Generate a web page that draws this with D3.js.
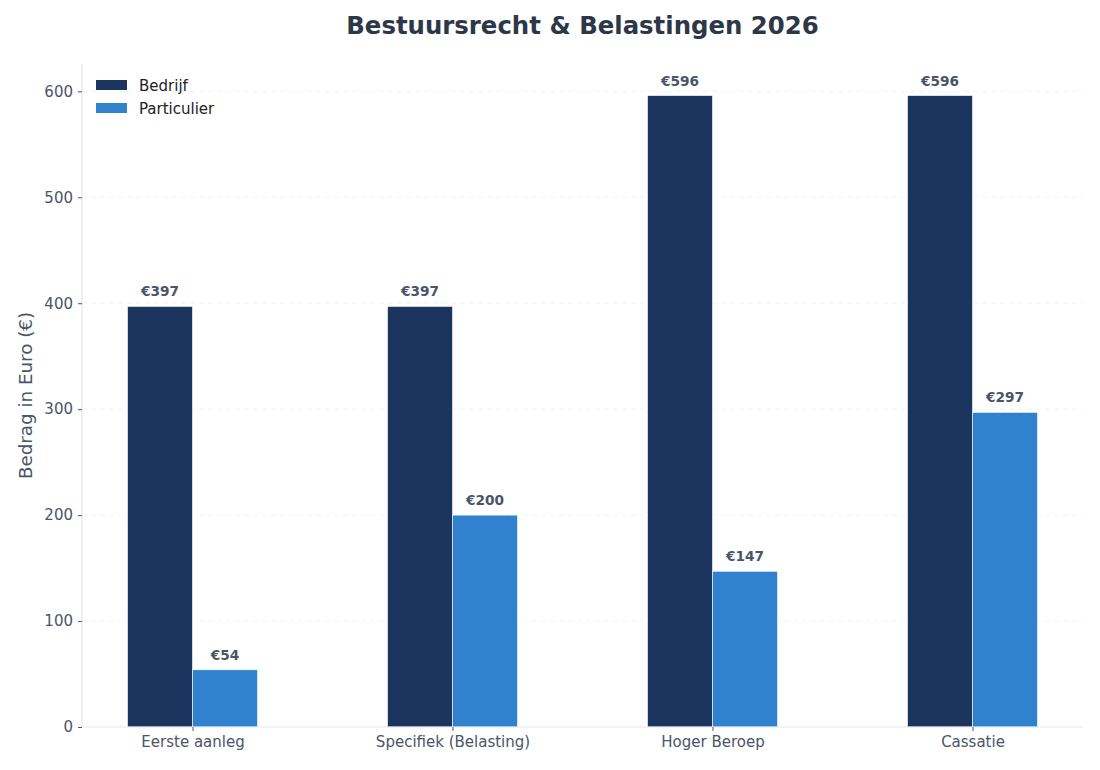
<!DOCTYPE html>
<html>
<head>
<meta charset="utf-8">
<script src="https://cdn.jsdelivr.net/npm/d3@7"></script>
<style>
  body { margin: 0; background: #fff; }
  svg { font-family: "DejaVu Sans", sans-serif; display: block; }
</style>
</head>
<body>
<div id="chart"></div>
<script>
// Griffierecht bestuursrecht 2026, bedrijf vs particulier
const categories = ['Eerste aanleg', 'Specifiek (Belasting)', 'Hoger Beroep', 'Cassatie'];
const seriesNames = ['Bedrijf', 'Particulier'];
const bedrijf = [397, 397, 596, 596];
const particulier = [54, 200, 147, 297];
const yTicks = [0, 100, 200, 300, 400, 500, 600];

const COLORS = { Bedrijf: '#1c355e', Particulier: '#3182ce' };

const W = 1100, H = 770;
const m = { top: 64, right: 17, bottom: 43, left: 82 };
const iw = W - m.left - m.right, ih = H - m.top - m.bottom;

const svg = d3.select('#chart').append('svg').attr('width', W).attr('height', H);

svg.append('text')
    .attr('x', m.left + iw / 2).attr('y', 34)
    .attr('text-anchor', 'middle')
    .attr('font-size', 24.4).attr('font-weight', 'bold').attr('fill', '#2d3748')
    .text('Bestuursrecht & Belastingen 2026');

const g = svg.append('g').attr('transform', `translate(${m.left},${m.top})`);

// bars sit at i-0.25..i+0.25, plus 5% margin each side, like matplotlib
const x = d3.scaleLinear().domain([-0.425, categories.length - 1 + 0.425]).range([0, iw]);
const yMax = d3.max([...bedrijf, ...particulier]) * 1.05;
const y = d3.scaleLinear().domain([0, yMax]).range([ih, 0]);
const barW = x(0.25) - x(0);

// grid
g.append('g').selectAll('line').data(yTicks.filter((t) => t > 0)).join('line')
    .attr('x1', 0).attr('x2', iw)
    .attr('y1', (d) => y(d)).attr('y2', (d) => y(d))
    .attr('stroke', '#e2e8f0').attr('stroke-dasharray', '5 4').attr('stroke-width', 0.8)
    .attr('opacity', 0.6);

const rows = [bedrijf, particulier];
rows.forEach((vals, s) => {
    const name = seriesNames[s];
    const off = s === 0 ? -barW : 0;
    g.append('g').selectAll('rect').data(vals).join('rect')
        .attr('x', (d, i) => x(i) + off)
        .attr('y', (d) => y(d))
        .attr('width', barW)
        .attr('height', (d) => ih - y(d))
        .attr('fill', COLORS[name])
        .attr('stroke', '#ffffff').attr('stroke-width', 0.6);

    g.append('g').selectAll('text').data(vals).join('text')
        .attr('x', (d, i) => x(i) + off + barW / 2)
        .attr('y', (d) => y(d) - 10)
        .attr('text-anchor', 'middle')
        .attr('font-size', 13.7).attr('font-weight', 'bold').attr('fill', '#4a5568')
        .text((d) => `€${d}`);
});

// axes
const xAxis = g.append('g').attr('transform', `translate(0,${ih})`)
    .call(d3.axisBottom(x).tickValues(d3.range(categories.length))
        .tickFormat((i) => categories[i]).tickSize(4).tickPadding(5));
const yAxis = g.append('g')
    .call(d3.axisLeft(y).tickValues(yTicks).tickSize(4).tickPadding(5));

[xAxis, yAxis].forEach((ax) => {
    ax.select('.domain').attr('stroke', '#e2e8f0').attr('stroke-width', 1.2);
    ax.selectAll('.tick line').attr('stroke', '#4a5568');
    ax.selectAll('.tick text').attr('font-size', 15).attr('fill', '#4a5568')
        .attr('font-family', '"DejaVu Sans", sans-serif');
});
xAxis.select('.domain').attr('d', `M0,0H${iw}`);
yAxis.select('.domain').attr('d', `M0,${ih}V0`);

svg.append('text')
    .attr('transform', `translate(32,${m.top + ih / 2}) rotate(-90)`)
    .attr('text-anchor', 'middle')
    .attr('font-size', 18.3).attr('fill', '#4a5568')
    .text('Bedrag in Euro (€)');

// legend
const legend = g.append('g').attr('transform', 'translate(14,16)');
seriesNames.forEach((name, i) => {
    const row = legend.append('g').attr('transform', `translate(0,${i * 23})`);
    row.append('rect').attr('x', 0).attr('y', 0).attr('width', 31).attr('height', 10)
        .attr('fill', COLORS[name]);
    row.append('text').attr('x', 43).attr('y', 10.5)
        .attr('font-size', 15).attr('fill', '#222')
        .text(name);
});
</script>
</body>
</html>
